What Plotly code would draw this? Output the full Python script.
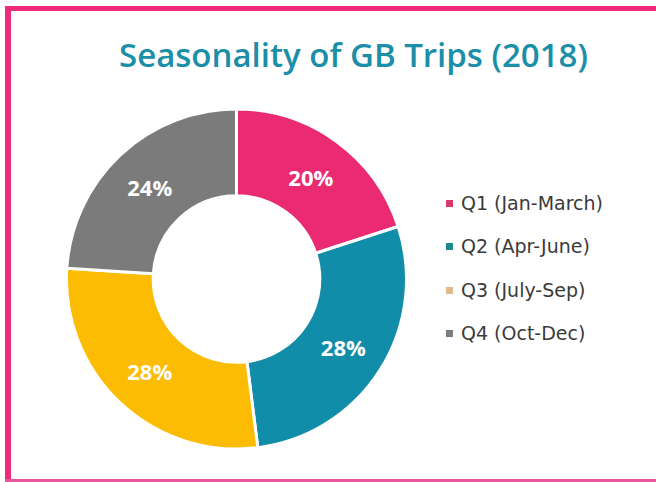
import plotly.graph_objects as go

categories = ["Q1 (Jan-March)", "Q2 (Apr-June)", "Q3 (July-Sep)", "Q4 (Oct-Dec)"]
shares = [20, 28, 28, 24]
colors = ["#ea2a71", "#118ca9", "#fcbc04", "#7b7b7b"]
legend_colors = ["#d8386c", "#1a8a8e", "#e2b98a", "#7d7d7d"]
title_text = "Seasonality of GB Trips (2018)"

W, H = 656, 482

def px(x):
    return x / W

def py(y):
    return 1 - y / H

fig = go.Figure()
fig.add_trace(go.Pie(
    labels=categories,
    values=shares,
    hole=0.49,
    sort=False,
    direction="clockwise",
    rotation=0,
    marker=dict(colors=colors, line=dict(color="white", width=3)),
    texttemplate="%{value}%",
    textposition="inside",
    insidetextorientation="horizontal",
    textfont=dict(family="Open Sans", size=22, color="white", weight="bold"),
    domain=dict(x=[px(66), px(407)], y=[py(449), py(109)]),
    showlegend=False,
    hoverinfo="label+percent",
))

shapes = [
    # pink frame
    dict(type="rect", xref="paper", yref="paper", x0=px(5), x1=px(656), y0=py(11), y1=py(6),
         fillcolor="#ee2a7b", line=dict(width=0)),
    dict(type="rect", xref="paper", yref="paper", x0=px(5), x1=px(11), y0=py(482), y1=py(6),
         fillcolor="#ee2a7b", line=dict(width=0)),
    dict(type="rect", xref="paper", yref="paper", x0=px(5), x1=px(656), y0=py(482), y1=py(479),
         fillcolor="#e8559a", line=dict(width=0)),
]
annotations = [
    dict(text=title_text, x=px(353), y=py(54), xref="paper", yref="paper",
         showarrow=False, xanchor="center", yanchor="middle",
         font=dict(family="Open Sans", size=33, color="#1b8ea8", weight=600)),
]

legend_y = [203, 246, 290, 333]
for name, col, ly in zip(categories, legend_colors, legend_y):
    shapes.append(dict(type="rect", xref="paper", yref="paper",
                       x0=px(446), x1=px(453), y0=py(ly + 4), y1=py(ly - 3),
                       fillcolor=col, line=dict(width=0)))
    annotations.append(dict(text=name, x=px(459), y=py(ly), xref="paper", yref="paper",
                            showarrow=False, xanchor="left", yanchor="middle",
                            font=dict(family="DejaVu Sans", size=19, color="#3a3a3a")))

fig.update_layout(
    width=W, height=H,
    margin=dict(l=0, r=0, t=0, b=0),
    paper_bgcolor="white",
    plot_bgcolor="white",
    shapes=shapes,
    annotations=annotations,
)

fig.write_html("out.html", config={"displayModeBar": False},
               post_script="document.body.style.margin='0px';")
